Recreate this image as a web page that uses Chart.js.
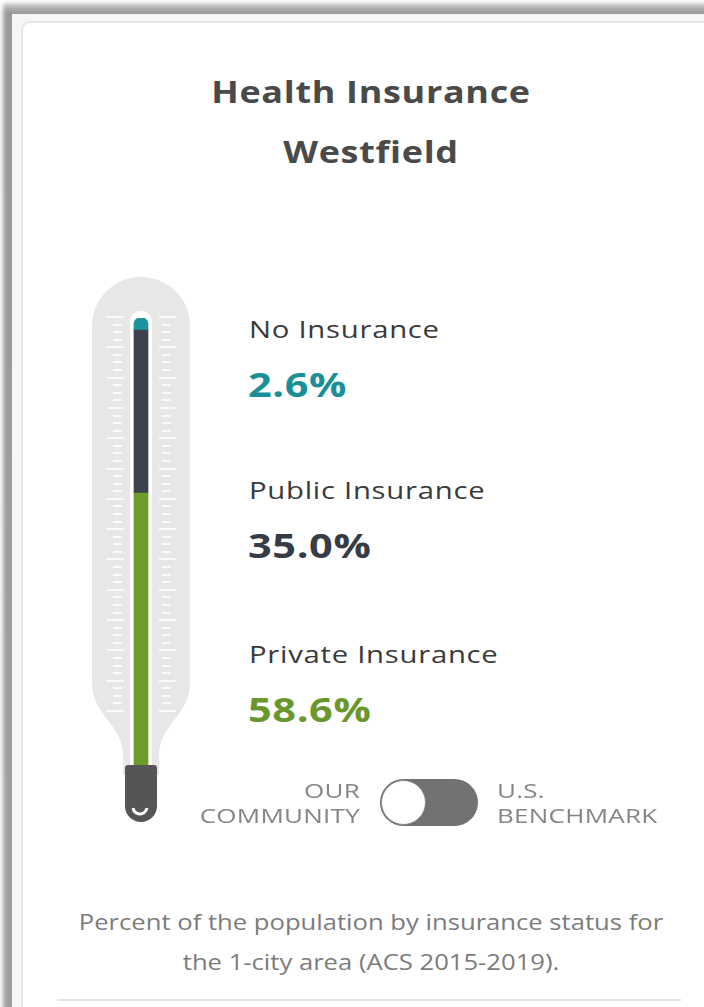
<!DOCTYPE html>
<html>
<head>
<meta charset="utf-8">
<script src="https://cdn.jsdelivr.net/npm/chart.js@4"></script>
<style>
  html, body { margin:0; padding:0; width:704px; height:1007px; overflow:hidden; background:#fff; font-family:'Open Sans', sans-serif; }
  .shadow { position:absolute; left:0; top:0; width:760px; height:1100px; background:linear-gradient(#d8d8d8, #9a9a9a 13px, #a0a0a0); box-shadow:inset 3px 3px 4px #fff; }
  .frame { position:absolute; left:12px; top:14px; width:760px; height:1100px; background:#f6f6f6; }
  .card { position:absolute; left:21px; top:21px; width:760px; height:1100px; background:#fff; border:2px solid #e6e6e6; border-radius:9px; box-sizing:border-box; }
  .title { position:absolute; left:21px; width:700px; text-align:center; color:#4a4a4a; font-weight:700; font-size:31px; letter-spacing:0.6px; transform:scaleX(1.16); transform-origin:350px 0; }
  #thermo { position:absolute; left:81px; top:260px; }
  .lbl { position:absolute; left:249px; color:#3a3a3a; font-size:24px; letter-spacing:0.6px; white-space:nowrap; transform:scaleX(1.22); transform-origin:0 0; }
  .val { position:absolute; left:248px; font-size:34px; font-weight:700; letter-spacing:0.5px; white-space:nowrap; transform:scaleX(1.22); transform-origin:0 0; }
  .tog { position:absolute; color:#858585; font-size:20px; line-height:25px; letter-spacing:0.2px; transform:scaleX(1.3); }
  .pill { position:absolute; left:380px; top:779px; width:98px; height:47px; border-radius:24px; background:#727272; }
  .knob { position:absolute; left:381px; top:780px; width:45px; height:45px; border-radius:50%; background:#fff; border:1px solid #8a8a8a; box-sizing:border-box; box-shadow:0 0 1px #666; }
  .foot { position:absolute; left:21px; width:700px; text-align:center; color:#7c7c7c; font-size:21px; line-height:40px; transform:scaleX(1.22); transform-origin:350px 0; }
  .rule { position:absolute; left:57px; top:999px; width:624px; height:2px; background:#e2e2e2; }
</style>
</head>
<body>
<div class="shadow"></div>
<div class="frame"></div>
<div class="card"></div>

<div class="title" style="top:70px">Health Insurance</div>
<div class="title" style="top:130px" id="place">Westfield</div>

<canvas id="thermo" width="120" height="580"></canvas>
<div id="labels"></div>

<div class="tog" style="left:160px; width:200px; text-align:right; top:778px; transform-origin:200px 0">OUR<br>COMMUNITY</div>
<div class="pill"></div>
<div class="knob"></div>
<div class="tog" style="left:497px; top:778px; transform-origin:0 0">U.S.<br>BENCHMARK</div>

<div class="foot" style="top:902px">Percent of the population by insurance status for<br>the 1-city area (ACS 2015-2019).</div>
<div class="rule"></div>

<script>
// ── Dados ──
const categories = ['No Insurance', 'Public Insurance', 'Private Insurance'];
const values = [2.6, 35.0, 58.6];
const colors = ['#1b949c', '#3c434d', '#6e9c2c'];
const valueColors = ['#1b8f98', '#363c46', '#6a972b'];
const labelTops = [312, 473, 637];

// ── Labels ──
const labelsBox = document.getElementById('labels');
categories.forEach((c, i) => {
  labelsBox.innerHTML += `<div class="lbl" style="top:${labelTops[i]}px">${c}</div>
    <div class="val" style="top:${labelTops[i] + 49}px;color:${valueColors[i]}">${values[i].toFixed(1)}%</div>`;
});

// ── Thermometer body (decoração) ──
const thermoBody = {
  id: 'thermoBody',
  beforeDatasetsDraw(chart) {
    const ctx = chart.ctx;
    const cx = 60, r = 49;
    ctx.save();
    // corpo cinza
    ctx.fillStyle = '#e7e7e7';
    ctx.beginPath();
    ctx.moveTo(cx - r, 66);
    ctx.arc(cx, 66, r, Math.PI, 0);
    ctx.lineTo(cx + r, 423);
    ctx.bezierCurveTo(cx + r, 455, cx + 18, 465, cx + 18, 495);
    ctx.lineTo(cx + 18, 515);
    ctx.lineTo(cx - 18, 515);
    ctx.lineTo(cx - 18, 495);
    ctx.bezierCurveTo(cx - 18, 465, cx - r, 455, cx - r, 423);
    ctx.closePath();
    ctx.fill();
    // tubo branco
    ctx.fillStyle = '#fff';
    ctx.beginPath();
    ctx.moveTo(cx - 11, 62);
    ctx.arc(cx, 62, 11, Math.PI, 0);
    ctx.lineTo(cx + 11, 515);
    ctx.lineTo(cx - 11, 515);
    ctx.closePath();
    ctx.fill();
    // marcas
    ctx.fillStyle = 'rgba(255,255,255,0.8)';
    const n = 52, top = 56, bottom = 450;
    for (let k = 0; k <= n; k++) {
      const y = Math.round(top + (bottom - top) * k / n);
      const major = k % 4 === 0;
      if (major) {
        ctx.fillRect(cx - 34, y, 17, 2);
        ctx.fillRect(cx + 18, y, 17, 2);
      } else {
        ctx.fillRect(cx - 28, y, 9, 2);
        ctx.fillRect(cx + 21, y, 9, 2);
      }
    }
    ctx.restore();
  },
  afterDatasetsDraw(chart) {
    const ctx = chart.ctx;
    const cx = 60;
    ctx.save();
    ctx.fillStyle = '#555555';
    ctx.beginPath();
    ctx.roundRect(cx - 16, 505, 32, 57, [3, 3, 16, 16]);
    ctx.fill();
    ctx.strokeStyle = '#fff';
    ctx.lineWidth = 3;
    ctx.beginPath();
    ctx.arc(cx - 1, 547, 7, 0.15, Math.PI - 0.15);
    ctx.stroke();
    ctx.restore();
  }
};

const total = values.reduce((a, b) => a + b, 0);

// pilha: privado embaixo, sem seguro no topo
const order = [2, 1, 0];
new Chart(document.getElementById('thermo'), {
  type: 'bar',
  data: {
    labels: [''],
    datasets: order.map(i => ({
      label: categories[i],
      data: [values[i]],
      backgroundColor: colors[i],
      barThickness: 14,
      borderSkipped: false,
      borderRadius: i === 0 ? { topLeft: 7, topRight: 7 } : 0
    }))
  },
  options: {
    responsive: false,
    animation: false,
    layout: { padding: { top: 58, bottom: 74, left: 0, right: 0 } },
    plugins: { legend: { display: false }, tooltip: { enabled: false } },
    scales: {
      x: { stacked: true, display: false },
      y: { stacked: true, display: false, min: 0, max: total }
    }
  },
  plugins: [thermoBody]
});
</script>
</body>
</html>
